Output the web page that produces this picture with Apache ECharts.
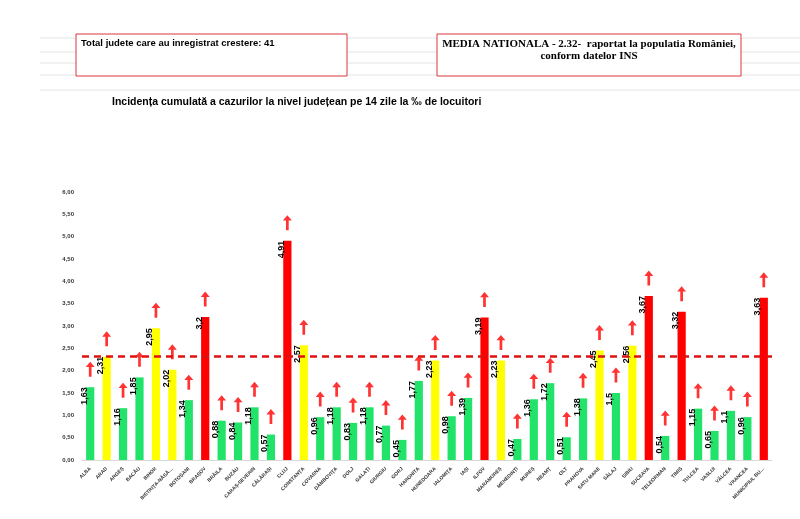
<!DOCTYPE html>
<html>
<head>
<meta charset="utf-8">
<script src="https://cdn.jsdelivr.net/npm/echarts@6/dist/echarts.min.js"></script>
<style>html,body{margin:0;background:#fff}#c{width:800px;height:519px}</style>
</head>
<body>
<div id="c"></div>
<script>
var judete = ['ALBA','ARAD','ARGEȘ','BACĂU','BIHOR','BISTRIȚA-NĂSĂUD','BOTOȘANI','BRAȘOV','BRĂILA','BUZĂU','CARAȘ-SEVERIN','CĂLĂRAȘI','CLUJ','CONSTANȚA','COVASNA','DÂMBOVIȚA','DOLJ','GALAȚI','GIURGIU','GORJ','HARGHITA','HUNEDOARA','IALOMIȚA','IAȘI','ILFOV','MARAMUREȘ','MEHEDINȚI','MUREȘ','NEAMȚ','OLT','PRAHOVA','SATU MARE','SĂLAJ','SIBIU','SUCEAVA','TELEORMAN','TIMIȘ','TULCEA','VASLUI','VÂLCEA','VRANCEA','MUNICIPIUL BUCUREȘTI'];
var incidenta = [1.63,2.31,1.16,1.85,2.95,2.02,1.34,3.2,0.88,0.84,1.18,0.57,4.91,2.57,0.96,1.18,0.83,1.18,0.77,0.45,1.77,2.23,0.98,1.39,3.19,2.23,0.47,1.36,1.72,0.51,1.38,2.45,1.5,2.56,3.67,0.54,3.32,1.15,0.65,1.1,0.96,3.63];
var mediaNationala = 2.32;

function culoare(v) {
  if (v >= 3) return '#ff0000';
  if (v >= 2) return '#ffff00';
  return '#22e36a';
}
var arrowPath = 'path://M5,0 L10,5 L6.5,5 L6.5,14 L3.5,14 L3.5,5 L0,5 Z';

var chart = echarts.init(document.getElementById('c'));
chart.setOption({
  animation: false,
  graphic: [
    { type: 'line', shape: { x1: 40, y1: 38, x2: 800, y2: 38 }, style: { stroke: '#e4e4e4' } },
    { type: 'line', shape: { x1: 40, y1: 52, x2: 800, y2: 52 }, style: { stroke: '#e4e4e4' } },
    { type: 'line', shape: { x1: 40, y1: 63, x2: 800, y2: 63 }, style: { stroke: '#e4e4e4' } },
    { type: 'line', shape: { x1: 40, y1: 75, x2: 800, y2: 75 }, style: { stroke: '#e4e4e4' } },
    { type: 'line', shape: { x1: 40, y1: 90, x2: 800, y2: 90 }, style: { stroke: '#e4e4e4' } },
    { type: 'rect', shape: { x: 76, y: 34, width: 271, height: 42 }, style: { fill: '#fff', stroke: '#d9363e', lineWidth: 1 } },
    { type: 'text', left: 81, top: 38, style: { text: 'Total judete care au inregistrat crestere: 41', font: 'bold 9.5px "Liberation Sans Narrow", sans-serif', fill: '#000' } },
    { type: 'rect', shape: { x: 437, y: 34, width: 304, height: 42 }, style: { fill: '#fff', stroke: '#d9363e', lineWidth: 1 } },
    { type: 'text', x: 589, y: 38, style: { text: 'MEDIA NATIONALA - 2.32-  raportat la populatia României,\nconform datelor INS', align: 'center', lineHeight: 12, font: 'bold 11px "Liberation Serif", serif', fill: '#000' } },
    { type: 'text', left: 112, top: 97, style: { text: 'Incidența cumulată a cazurilor la nivel județean pe 14 zile la ‰ de locuitori', font: 'bold 10.5px "Liberation Sans Narrow", "Liberation Sans", sans-serif', fill: '#000' } }
  ],
  grid: { left: 82, right: 28, top: 192, bottom: 59 },
  xAxis: {
    type: 'category', data: judete,
    axisTick: { show: false },
    axisLine: { lineStyle: { color: '#d9d9d9' } },
    axisLabel: { rotate: 45, interval: 0, fontSize: 5, fontWeight: 'bold', color: '#333',
      formatter: function (v) { return v.length > 14 ? v.slice(0, 13) + '…' : v; } }
  },
  yAxis: {
    type: 'value', min: 0, max: 6, interval: 0.5,
    splitLine: { show: false },
    axisLine: { show: false },
    axisLabel: { fontSize: 6, fontWeight: 'bold', color: '#333',
      formatter: function (v) { return v.toFixed(2).replace('.', ','); } }
  },
  series: [
    {
      type: 'bar', barWidth: '50%',
      data: incidenta.map(function (v) { return { value: v, itemStyle: { color: culoare(v) } }; }),
      label: { show: true, position: 'insideTop', rotate: 90, align: 'right', verticalAlign: 'middle', offset: [0, -6],
        distance: 0, fontSize: 9, fontWeight: 'bold', color: '#000',
        formatter: function (p) { return String(p.value).replace('.', ','); } },
      markLine: {
        silent: true, symbol: 'none', label: { show: false },
        lineStyle: { color: '#e01010', type: [7, 5], width: 2.5 },
        data: [{ yAxis: mediaNationala }]
      }
    },
    {
      type: 'scatter', symbol: arrowPath, symbolSize: [9, 15], symbolOffset: [0, -18],
      itemStyle: { color: '#ff0000' },
      data: incidenta
    }
  ]
});
</script>
</body>
</html>
